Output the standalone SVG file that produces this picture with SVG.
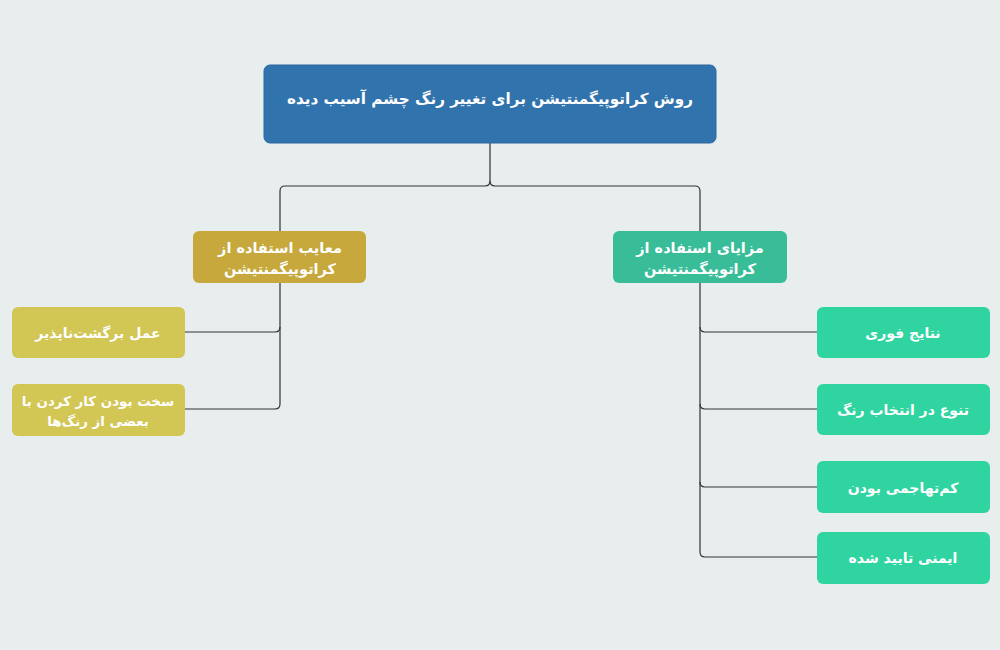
<svg xmlns="http://www.w3.org/2000/svg" width="1000" height="650" viewBox="0 0 1000 650">
<style>
.bg{fill:#e8eeee}
.t{font-family:"DejaVu Sans","Noto Sans",sans-serif;font-weight:bold;fill:#ffffff;text-anchor:middle;direction:rtl}
.root{fill:#3173ad;stroke:#2a67a0;stroke-width:1}
.l1a{fill:#c6a83c}
.l1b{fill:#38bd98}
.l2a{fill:#d2c655}
.l2b{fill:#30d4a1}
.c{fill:none;stroke:#333;stroke-width:1.2}
</style>
<rect class="bg" x="0" y="0" width="1000" height="650"/>
<g id="connectors">
<path class="c" d="M490 143 V181 Q490 186 485 186 H285 Q280 186 280 191 V231"/>
<path class="c" d="M490 181 Q490 186 495 186 H695 Q700 186 700 191 V231"/>
<path class="c" d="M280 283 V327 Q280 332 275 332 H185"/>
<path class="c" d="M280 327 V404 Q280 409 275 409 H185"/>
<path class="c" d="M700 283 V327 Q700 332 705 332 H817"/>
<path class="c" d="M700 327 V404 Q700 409 705 409 H817"/>
<path class="c" d="M700 404 V482 Q700 487 705 487 H817"/>
<path class="c" d="M700 482 V552 Q700 557 705 557 H817"/>
</g>
<g id="root">
<rect class="root" x="264" y="65" width="452" height="78" rx="6"/>
<text class="t" x="490" y="104" font-size="15.2">روش کراتوپیگمنتیشن برای تغییر رنگ چشم آسیب دیده</text>
</g>
<g id="cons">
<rect class="l1a" x="193" y="231" width="173" height="52" rx="6"/>
<text class="t" x="280" y="253" font-size="14.5">معایب استفاده از</text>
<text class="t" x="280" y="274" font-size="14.5">کراتوپیگمنتیشن</text>
</g>
<g id="pros">
<rect class="l1b" x="613" y="231" width="174" height="52" rx="6"/>
<text class="t" x="700" y="253" font-size="14.5">مزایای استفاده از</text>
<text class="t" x="700" y="274" font-size="14.5">کراتوپیگمنتیشن</text>
</g>
<g id="con1">
<rect class="l2a" x="12" y="307" width="173" height="51" rx="6"/>
<text class="t" x="98" y="338" font-size="14">عمل برگشت‌ناپذیر</text>
</g>
<g id="con2">
<rect class="l2a" x="12" y="384" width="173" height="52" rx="6"/>
<text class="t" x="98" y="406" font-size="13.4">سخت بودن کار کردن با</text>
<text class="t" x="98" y="426" font-size="13.4">بعضی از رنگ‌ها</text>
</g>
<g id="pro1">
<rect class="l2b" x="817" y="307" width="173" height="51" rx="6"/>
<text class="t" x="903" y="338" font-size="14">نتایج فوری</text>
</g>
<g id="pro2">
<rect class="l2b" x="817" y="384" width="173" height="51" rx="6"/>
<text class="t" x="903" y="415" font-size="14">تنوع در انتخاب رنگ</text>
</g>
<g id="pro3">
<rect class="l2b" x="817" y="461" width="173" height="52" rx="6"/>
<text class="t" x="903" y="493" font-size="14">کم‌تهاجمی بودن</text>
</g>
<g id="pro4">
<rect class="l2b" x="817" y="532" width="173" height="52" rx="6"/>
<text class="t" x="903" y="563" font-size="14">ایمنی تایید شده</text>
</g>
</svg>
